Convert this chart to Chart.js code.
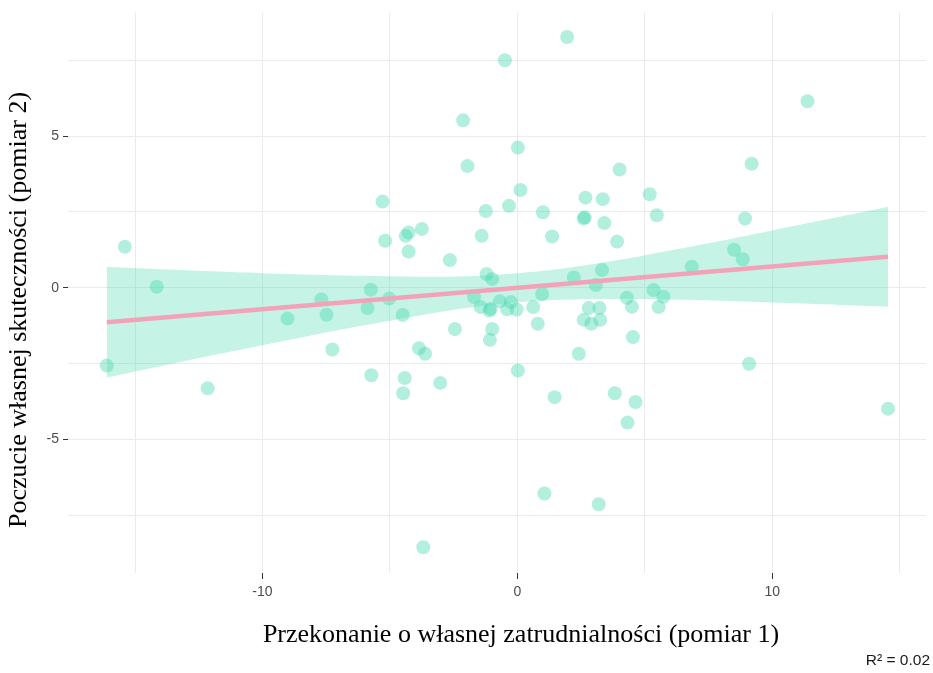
<!DOCTYPE html>
<html><head><meta charset="utf-8">
<script src="https://cdn.jsdelivr.net/npm/chart.js@4.4.1/dist/chart.umd.min.js"></script>
<style>html,body{margin:0;padding:0;background:#fff;} #wrap{width:933px;height:673px;position:relative;}</style>
</head><body><div id="wrap"><canvas id="c"></canvas></div>
<script>
const pointX = [-16.11,-15.40,-14.15,-12.15,-9.02,-7.69,-7.49,-7.26,-5.75,-5.88,-5.73,-5.29,-5.19,-5.03,-4.50,-4.38,-4.27,-4.27,-3.75,-3.86,-3.62,-4.42,-4.48,-3.03,-3.69,-2.65,-2.45,-2.13,-1.96,-1.24,-1.40,-1.21,-0.99,-1.70,-1.44,-1.05,-1.10,-0.99,-1.08,-0.69,-0.26,-0.40,-0.03,-0.49,-0.33,0.02,0.12,0.02,0.97,0.62,0.80,1.00,1.36,1.46,1.06,1.95,2.21,2.41,2.67,2.60,2.64,3.35,3.41,3.32,3.08,2.80,3.22,2.60,2.90,3.25,3.19,3.82,3.91,4.01,4.30,4.49,4.53,4.63,4.32,5.19,5.47,5.34,5.73,5.54,6.84,8.50,8.84,8.93,9.19,9.09,11.38,14.54];
const pointY = [-2.57,1.35,0.03,-3.32,-1.02,-0.39,-0.89,-2.04,-0.07,-0.67,-2.89,2.84,1.55,-0.36,-0.90,1.71,1.82,1.19,1.94,-2.00,-2.18,-2.98,-3.48,-3.14,-8.56,0.91,-1.36,5.52,4.01,2.53,1.71,0.45,0.29,-0.31,-0.64,-0.70,-0.75,-1.36,-1.72,-0.45,-0.47,-0.71,-0.72,7.50,2.70,4.62,3.22,-2.73,-0.21,-0.64,-1.19,2.49,1.69,-3.61,-6.79,8.27,0.34,-2.18,2.97,2.28,2.32,2.92,2.13,0.58,0.09,-0.67,-0.67,-1.06,-1.19,-1.06,-7.14,-3.48,1.52,3.90,-0.33,-0.63,-1.63,-3.77,-4.45,3.08,2.39,-0.08,-0.30,-0.64,0.69,1.25,0.94,2.28,4.09,-2.51,6.15,-3.99];
const fitX = [-16.11, 14.54];
const fitY = [-1.14, 1.02];
const bandX = [-16.11,-14,-12,-10,-8,-6,-4,-2,0,2,4,6,8,10,12,14.54];
const bandUpper = [0.68,0.61,0.54,0.48,0.43,0.39,0.36,0.38,0.48,0.66,0.92,1.23,1.55,1.89,2.23,2.67];
const bandLower = [-2.96,-2.59,-2.24,-1.90,-1.56,-1.24,-0.94,-0.67,-0.48,-0.39,-0.37,-0.39,-0.43,-0.49,-0.55,-0.63];
const xTicks = [-15,-10,-5,0,5,10,15];
const xTickLabels = ['', '-10', '', '0', '', '10', ''];
const yTicks = [-7.5,-5,-2.5,0,2.5,5,7.5];
const yTickLabels = ['', '-5', '', '0', '', '5', ''];
const xTitle = 'Przekonanie o własnej zatrudnialności (pomiar 1)';
const yTitle = 'Poczucie własnej skuteczności (pomiar 2)';
const note = 'R² = 0.02';

const toXY = (xs, ys) => xs.map((x, i) => ({x: x, y: ys[i]}));

const textPlugin = {
  id: 'texts',
  afterDraw(chart) {
    const ctx = chart.ctx;
    ctx.save();
    ctx.fillStyle = '#000';
    ctx.font = '26px "Liberation Serif"';
    ctx.textAlign = 'center';
    ctx.textBaseline = 'middle';
    ctx.fillText(xTitle, 521, 635);
    ctx.translate(19, 310);
    ctx.rotate(-Math.PI / 2);
    ctx.fillText(yTitle, 0, 0);
    ctx.restore();
    ctx.save();
    ctx.fillStyle = '#1a1a1a';
    ctx.font = '15.5px "Liberation Sans"';
    ctx.textAlign = 'right';
    ctx.textBaseline = 'middle';
    ctx.fillText(note, 930, 661);
    ctx.restore();
  }
};

new Chart(document.getElementById('c'), {
  type: 'scatter',
  data: {
    datasets: [
      { data: toXY(fitX, fitY), showLine: true, borderColor: '#F2A3B7', borderWidth: 4.5, pointRadius: 0, fill: false, order: 0 },
      { data: toXY(bandX, bandUpper), showLine: true, borderWidth: 0, borderColor: 'rgba(0,0,0,0)', pointRadius: 0, tension: 0.4, fill: '+1', backgroundColor: 'rgba(64,214,172,0.3)', order: 1 },
      { data: toXY(bandX, bandLower), showLine: true, borderWidth: 0, borderColor: 'rgba(0,0,0,0)', pointRadius: 0, tension: 0.4, fill: false, order: 2 },
      { data: toXY(pointX, pointY), pointRadius: 7, pointHoverRadius: 7, backgroundColor: 'rgba(64,214,172,0.4)', borderWidth: 0, order: 3 }
    ]
  },
  options: {
    responsive: true,
    maintainAspectRatio: false,
    animation: false,
    events: [],
    layout: { padding: { top: 11, right: -4, left: 0, bottom: 0 } },
    plugins: { legend: { display: false }, tooltip: { enabled: false } },
    scales: {
      x: {
        type: 'linear', min: -17.63, max: 16.03,
        afterBuildTicks: s => { s.ticks = xTicks.map(v => ({ value: v })); },
        afterFit: s => { s.height = 100; },
        ticks: { callback: (v, i) => xTickLabels[i], color: '#4D4D4D', font: { family: 'Liberation Sans', size: 14 }, padding: 5, maxRotation: 0, autoSkip: false },
        grid: { color: '#EBEBEB', lineWidth: 1, drawTicks: true, tickLength: 6, tickWidth: 1, tickColor: c => xTickLabels[c.index] ? '#333333' : 'rgba(0,0,0,0)' },
        border: { display: false }
      },
      y: {
        type: 'linear', min: -9.41, max: 9.08,
        afterBuildTicks: s => { s.ticks = yTicks.map(v => ({ value: v })); },
        afterFit: s => { s.width = 68; },
        ticks: { callback: (v, i) => yTickLabels[i], color: '#4D4D4D', font: { family: 'Liberation Sans', size: 14 }, padding: 4, autoSkip: false },
        grid: { color: '#EBEBEB', lineWidth: 1, drawTicks: true, tickLength: 5, tickWidth: 1, tickColor: c => yTickLabels[c.index] ? '#333333' : 'rgba(0,0,0,0)' },
        border: { display: false }
      }
    }
  },
  plugins: [textPlugin]
});
</script></body></html>
